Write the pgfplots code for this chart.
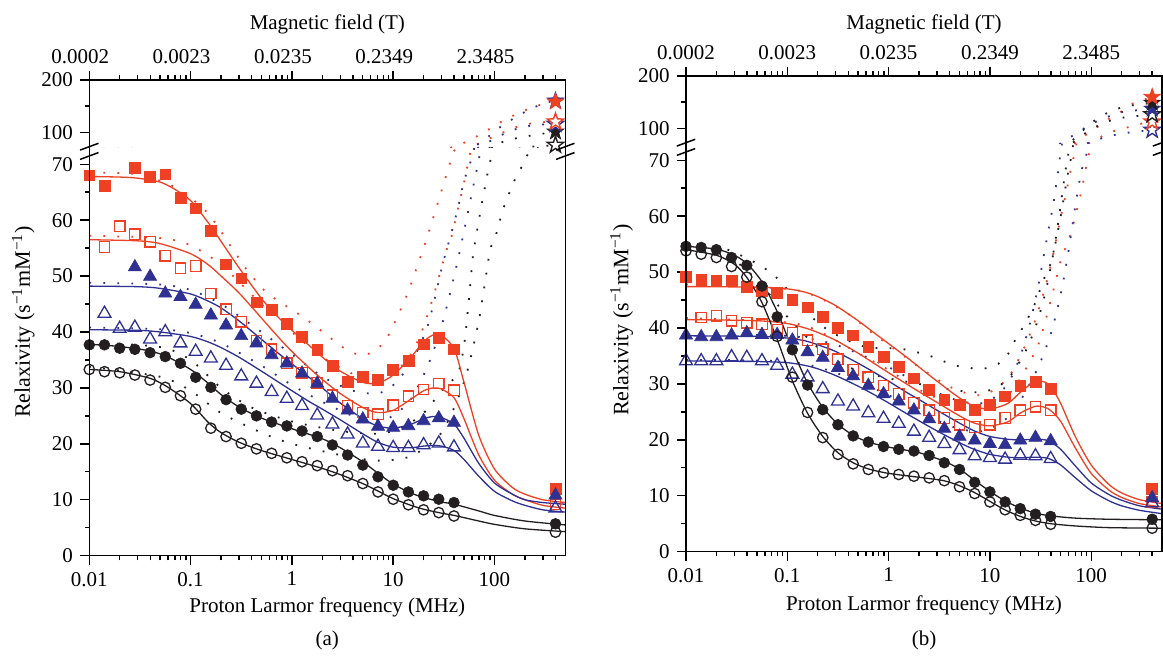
\documentclass[border=0pt]{standalone}
\usepackage{fontspec}
\setmainfont{Liberation Serif}
\usepackage{pgfplots}
\usepackage{pgfplotstable}
\pgfplotsset{compat=1.18}
\usetikzlibrary{plotmarks}

\definecolor{rred}{RGB}{238,64,35}
\definecolor{rblue}{RGB}{46,49,146}
\definecolor{rblack}{RGB}{35,31,32}

\newcommand\lf{\fontsize{10.5pt}{12.6pt}\selectfont}
\newcommand\lfy{\fontsize{11pt}{13pt}\selectfont}

% five-pointed star, filled with the fill colour and outlined
\pgfdeclareplotmark{fivestar}{%
  \pgfpathmoveto{\pgfpointpolar{90}{\pgfplotmarksize}}%
  \pgfpathlineto{\pgfpointpolar{126}{0.4\pgfplotmarksize}}%
  \pgfpathlineto{\pgfpointpolar{162}{\pgfplotmarksize}}%
  \pgfpathlineto{\pgfpointpolar{198}{0.4\pgfplotmarksize}}%
  \pgfpathlineto{\pgfpointpolar{234}{\pgfplotmarksize}}%
  \pgfpathlineto{\pgfpointpolar{270}{0.4\pgfplotmarksize}}%
  \pgfpathlineto{\pgfpointpolar{306}{\pgfplotmarksize}}%
  \pgfpathlineto{\pgfpointpolar{342}{0.4\pgfplotmarksize}}%
  \pgfpathlineto{\pgfpointpolar{18}{\pgfplotmarksize}}%
  \pgfpathlineto{\pgfpointpolar{54}{0.4\pgfplotmarksize}}%
  \pgfpathclose
  \pgfusepathqfillstroke}

% measured relaxivities, panel (a)
\pgfplotstableread{
f       sqF   sqO   trF   trO   ciF   ciO
0.01    68.0  nan   nan   nan   37.7  33.3
0.01413 66.1  55.2  nan   43.3  37.7  32.9
0.01995 nan   58.9  nan   40.6  37.1  32.7
0.02818 69.4  57.5  51.6  40.8  36.9  32.3
0.03981 67.8  56.1  49.9  38.7  36.3  31.4
0.05623 68.2  53.6  46.9  40.0  35.6  30.1
0.07943 64.0  51.4  46.3  38.0  34.4  28.6
0.1122  62.1  51.8  44.9  36.5  31.9  26.2
0.1585  58.1  46.9  43.0  35.3  30.1  22.8
0.2239  52.1  44.1  41.2  34.0  27.9  21.3
0.3162  49.6  41.8  39.3  32.1  26.2  20.1
0.4467  45.3  38.5  38.0  30.8  25.0  19.1
0.6310  43.9  36.9  35.9  29.3  23.9  18.3
0.8913  41.5  34.4  34.4  28.1  23.2  17.5
1.259   39.1  32.7  32.6  26.8  22.3  16.8
1.778   36.8  30.9  30.8  25.1  21.3  16.1
2.512   33.9  28.7  28.1  23.5  19.8  15.2
3.548   31.1  26.8  26.0  21.7  18.0  14.3
5.012   32.0  25.6  24.4  20.1  16.2  12.9
7.079   31.5  25.3  23.1  19.5  14.1  11.4
10.0    33.3  26.9  22.9  19.3  12.6  10.1
14.13   34.8  28.5  23.2  19.3  11.4  9.1
19.95   37.8  29.7  24.1  19.8  10.7  8.2
28.18   39.0  30.8  24.6  20.1  10.1  7.7
39.81   36.9  29.6  23.8  19.4  9.5   7.1
400     12.0  9.2   10.8  8.5   5.7   4.2
}\dataA

% measured relaxivities, panel (b)
\pgfplotstableread{
f       sqF   sqO   trF   trO   ciF   ciO
0.01    49.1  nan   38.7  34.1  54.6  53.8
0.01413 48.6  41.9  38.4  34.1  54.4  53.2
0.01995 48.4  42.2  38.4  34.1  54.0  52.6
0.02818 48.4  41.3  38.7  34.8  52.6  51.0
0.03981 47.3  40.9  39.1  34.7  51.2  49.1
0.05623 46.6  40.7  38.8  34.1  47.5  44.7
0.07943 46.3  39.7  38.8  33.3  42.0  38.5
0.1122  45.1  39.1  37.8  31.7  36.1  31.2
0.1585  43.7  37.8  35.7  31.2  29.8  24.9
0.2239  42.0  36.2  34.7  29.1  25.4  20.4
0.3162  40.1  34.4  32.9  26.9  22.7  17.4
0.4467  38.7  32.5  31.4  26.0  20.7  15.7
0.6310  36.7  31.2  29.7  24.8  19.6  14.7
0.8913  34.9  29.7  28.2  23.8  18.8  14.1
1.259   33.0  28.2  26.9  22.9  18.3  13.8
1.778   31.0  26.6  25.3  21.5  18.0  13.5
2.512   28.9  25.3  23.7  20.4  17.2  13.2
3.548   27.2  23.9  22.0  19.3  15.9  12.7
5.012   26.2  22.7  20.6  18.2  14.7  11.6
7.079   25.4  22.3  19.9  17.1  12.4  10.4
10.0    26.3  22.7  19.3  16.8  10.7  8.9
14.13   27.8  23.9  19.1  16.5  8.9   7.5
19.95   29.6  25.3  19.9  17.2  7.7   6.5
28.18   30.4  25.9  20.4  17.1  6.7   5.6
39.81   29.1  25.3  19.8  16.6  6.3   4.9
400     11.2  8.9   9.6   8.7   5.8   4.2
}\dataB

% predicted profiles, panel (a)
\pgfplotstableread{
f y
0.01 68.5
0.03 68.2
0.07 65.9
0.144 61.5
0.254 55.1
0.36 51.1
0.53 47.5
0.7 45.8
1.21 43.0
1.55 41.6
2.45 38.8
3.5 36.8
5 35.8
7 37.0
8.9 39.3
10.3 41.6
13.5 46.4
17 51.4
21.4 56.7
28.8 64.2
38.4 71.6
43 74
56.8 85.3
75.8 98
97 110.7
129 124.9
172 136.3
232 147
314 155
400 158.5
}\pArF
\pgfplotstableread{
f y
0.01 48.8
0.05 48.5
0.1 47.5
0.2 45
0.5 40
1 36
2 32
4 29.5
7 29
10 30.5
15 34.5
22 41.2
30.9 52.2
36.6 57
43.5 62.1
50.4 67.2
61.2 71.8
70 78
85 90
110 108
150 125
200 139
236 146
314 156
400 160.5
}\pAbF
\pgfplotstableread{
f y
0.01 57.2
0.05 56.8
0.1 55.5
0.2 52
0.5 45
1 40
2 35.5
4 32.5
7 31.5
10 32.5
15 36
20 41
26 47.5
33.5 54.6
37.5 57
43.5 62
50.4 67
57.5 72
67.6 77.6
90 88.5
120 99.2
164 110
222 116.5
312 119.5
400 120.3
}\pArO
\pgfplotstableread{
f y
0.01 40.8
0.05 40.5
0.1 39.8
0.2 38
0.5 34
1 30.5
2 27.5
4 25
7 24.3
10 25
15 28
22 34
30 41
40 50
50 58
60 65
72 72
85 80
110 92
150 104
220 112
310 115
400 116
}\pAbO
\pgfplotstableread{
f y
0.01 38.2
0.05 37.3
0.1 35
0.2 30
0.4 26.5
1 24
3 22.3
7 21.8
12 22.8
20 25.5
30 29.5
43.5 32.6
50.4 38
56 46
61.2 53.5
67.7 58.4
75.8 63.4
85.5 68.4
91.6 70.9
96.4 73.8
131 84
181 90.4
249 94.8
342 99.2
400 101
}\pAkF
\pgfplotstableread{
f y
0.01 33.8
0.05 32
0.1 29.5
0.2 25.5
0.5 22
1 20
3 18
7 17
15 17.8
30 22
50 31
70 42
89.6 54.2
100 56.6
110 59
119 61.5
134 63.9
150 66.3
173 68.5
201 70.7
223 72.3
314 73.8
400 75.7
}\pAkO

% predicted profiles, panel (b)
\pgfplotstableread{
f y
0.01 47.8
0.1 47
0.2 45.5
0.4 42.5
0.7 39
1 37
2 33
4 29.5
7 28
10 28.5
15 31
20 35
25 39
30 43
36 48
42.4 53.4
49.2 59.2
56.6 64.2
64.5 69.3
71.2 72.8
85 85
107 98
147 117
200 132.6
254 147
400 159.8
}\pBrF
\pgfplotstableread{
f y
0.01 55
0.025 54.1
0.07 49.8
0.162 42.5
0.275 39.2
0.59 36.6
1.3 36.3
2.48 35.1
4.54 33.3
8.3 32.7
12.1 33.6
15.2 35.4
17.7 37.8
22.3 40.8
27.9 44.4
33.7 48.5
40.8 52.1
46 57.5
50 62
55 67.5
61 72.5
70 82
85 98
110 116
150 131
220 142
400 148.5
}\pBkF
\pgfplotstableread{
f y
0.01 38.8
0.1 38.6
0.3 37
1 33
2 30
4 27.5
7 26.5
10 27
15 30
20 35
25 41
30 47.5
33.7 52.5
37.7 57.4
42.4 62.3
46.4 67.2
50.7 72.2
61.8 82.5
77.6 95
103 109.4
139 120.2
185 129.6
254 133.5
400 137.2
}\pBbF
\pgfplotstableread{
f y
0.01 54.2
0.03 52
0.06 47
0.1 42
0.2 36.5
0.4 33
1 31
2 30
4 29
8 28.5
12 29.5
16 31.5
22 35.5
28 40
35 46
42 53
50 60
58 67
66 72.5
80 85
100 98
140 112
200 120
400 126.4
}\pBkO
\pgfplotstableread{
f y
0.01 41.8
0.1 41
0.2 39.5
0.5 35.5
1 32.5
2 29
4 26.5
7 25.5
10 26
15 28
20 31
30 37
40 45
50.8 52.5
59.6 55.5
69.8 60
80.3 64.6
90.6 69.5
100 73
116 80
146 90.6
191 98
260 104.3
315 109
400 112.6
}\pBrO
\pgfplotstableread{
f y
0.01 34.3
0.1 34
0.3 32
1 28
2 25
4 22.5
7 21.5
10 22
15 24
20 27
30 33
40 39
50 46
60 54
70 62
80 68
95 72.5
110 77
150 85
220 91
400 96.8
}\pBbO

% settings shared by all four axes
\pgfplotsset{
  scale only axis, width=238pt, xmin=0.01, xmax=500,
  axis line style={line width=0.75pt, black}, tick align=outside,
  major tick length=4.65pt, minor tick length=2.4pt,
  tick style={line width=0.7pt, color=black},
  tick label style={font=\lf, text=black},
  clip mode=individual,
  xtick={0.01,0.1,1,10,100},
  minor xtick={0.02,0.03,0.04,0.05,0.06,0.07,0.08,0.09,0.2,0.3,0.4,0.5,0.6,0.7,0.8,0.9,2,3,4,5,6,7,8,9,20,30,40,50,60,70,80,90,200,300,400},
  fitline/.style={line width=0.65pt, smooth, tension=0.45, no marks},
  dotc/.style={line width=0.9pt, dash pattern=on 0.9pt off 6.1pt, smooth, tension=0.45, no marks},
  mSF/.style={only marks, mark=square*, mark size=2.7pt, color=rred, mark options={solid, line width=0.3pt}},
  mSO/.style={only marks, mark=square, mark size=2.6pt, color=rred, mark options={solid, line width=0.65pt}},
  mTF/.style={only marks, mark=triangle*, mark size=3.8pt, color=rblue, mark options={solid, line width=0.3pt}},
  mTO/.style={only marks, mark=triangle, mark size=3.7pt, color=rblue, mark options={solid, line width=0.65pt}},
  mCF/.style={only marks, mark=*, mark size=2.7pt, color=rblack, mark options={solid, line width=0.3pt}},
  mCO/.style={only marks, mark=o, mark size=2.6pt, color=rblack, mark options={solid, line width=0.65pt}},
  stF/.style={only marks, mark=fivestar, mark size=4.3pt, mark options={solid, fill=#1, draw=#1, line width=0.4pt}},
  stO/.style={only marks, mark=fivestar, mark size=4.3pt, mark options={solid, fill=white, draw=#1, line width=0.7pt}},
}

\begin{document}
\begin{tikzpicture}
\useasboundingbox (0,0) rectangle (581.5pt,328pt);

% ---------------- panel (a) ----------------
\begin{axis}[xmode=log, height=203.85pt, ymin=0, ymax=72.9,
    axis x line*=bottom, axis y line*=left,
    ytick={0,10,20,30,40,50,60,70}, minor ytick={5,15,25,35,45,55,65},
    yticklabels={0,10,20,30,40,50,60,70},
    xticklabels={0.01,0.1,1,10,100},
    at={(44.65pt,50.15pt)}, anchor=south west]
  \addplot[dotc, rred] table[x=f,y=y] {\pArF};
  \addplot[dotc, rred] table[x=f,y=y] {\pArO};
  \addplot[dotc, rblue] table[x=f,y=y] {\pAbF};
  \addplot[dotc, rblue] table[x=f,y=y] {\pAbO};
  \addplot[dotc, rblack] table[x=f,y=y] {\pAkF};
  \addplot[dotc, rblack] table[x=f,y=y] {\pAkO};
  \addplot[fitline, rred] coordinates {(0.01,67.8)(0.02,67.7)(0.03,67.5)(0.05,66.8)(0.07,65.5)(0.1,63.5)(0.15,59.5)(0.2,56.2)(0.3,51.5)(0.5,46)(0.7,43)(1,40.3)(1.5,37.5)(2,35.5)(3,33)(5,31)(7,30.8)(10,32.3)(15,35.5)(20,38.3)(25,39.5)(30,39.4)(40,37)(50,31)(70,21.5)(100,15.5)(150,12.2)(200,11)(300,10)(500,9.5)};
  \addplot[fitline, rred] coordinates {(0.01,56.5)(0.03,56.3)(0.05,55.8)(0.1,54)(0.15,52)(0.2,50)(0.3,47)(0.5,42.5)(0.7,39.5)(1,36.5)(1.5,33.5)(2,31.5)(3,29)(5,26.5)(7,25.6)(10,26)(15,28)(20,29.5)(25,30)(30,29.8)(40,28.2)(50,24.5)(70,18)(100,13.5)(150,11)(200,10)(300,9)(500,8.5)};
  \addplot[fitline, rblue] coordinates {(0.01,48.2)(0.03,48.1)(0.05,47.8)(0.1,46.8)(0.15,45.5)(0.2,44.3)(0.3,42)(0.5,38.7)(0.7,36.5)(1,34.3)(1.5,31.8)(2,30)(3,27.3)(5,24.5)(7,23.2)(10,22.8)(15,23.5)(20,24.5)(25,24.9)(30,24.7)(40,23.5)(50,21)(70,16.5)(100,13)(150,11)(200,10)(300,9.5)(500,9.2)};
  \addplot[fitline, rblue] coordinates {(0.01,40.4)(0.03,40.3)(0.05,40)(0.1,39.2)(0.15,38.2)(0.2,37.2)(0.3,35.5)(0.5,33)(0.7,31.3)(1,29.5)(1.5,27.5)(2,26.2)(3,24.3)(5,21.8)(7,20.3)(10,19.4)(15,19.3)(20,19.6)(25,19.7)(30,19.6)(40,18.8)(50,17.2)(70,14.2)(100,11.5)(150,9.8)(200,9)(300,8.2)(500,7.8)};
  \addplot[fitline, rblack] coordinates {(0.01,37.8)(0.02,37.4)(0.04,36.6)(0.06,35.5)(0.1,33.3)(0.15,30.8)(0.2,28.8)(0.3,26.6)(0.5,24.6)(1,22.7)(2,20.9)(3,19.3)(5,16.8)(7,14.8)(10,12.8)(15,11.2)(20,10.4)(30,9.6)(40,9.2)(70,8)(100,7.2)(200,6.2)(500,5.5)};
  \addplot[fitline, rblack] coordinates {(0.01,33.3)(0.02,32.9)(0.04,31.7)(0.06,30.1)(0.1,27.2)(0.15,23.8)(0.2,22)(0.3,20.3)(0.5,18.8)(1,17.2)(2,15.6)(3,14.5)(5,12.9)(7,11.6)(10,10.2)(15,9)(20,8.3)(30,7.6)(40,7.2)(70,6.2)(100,5.6)(200,4.8)(500,4.3)};
  \addplot[mSO] table[x=f,y=sqO] {\dataA};
  \addplot[mSF] table[x=f,y=sqF] {\dataA};
  \addplot[mTO] table[x=f,y=trO] {\dataA};
  \addplot[mTF] table[x=f,y=trF] {\dataA};
  \addplot[mCO] table[x=f,y=ciO] {\dataA};
  \addplot[mCF] table[x=f,y=ciF] {\dataA};
\end{axis}

\begin{axis}[xmode=log, height=34pt, ymin=70, ymax=200,
    axis x line*=top, axis y line*=left,
    ytick={100,200}, minor ytick={150}, yticklabels={100,200},
    xticklabels={0.0002,0.0023,0.0235,0.2349,2.3485},
    xticklabel style={xshift=-4.5pt},
    at={(44.65pt,254pt)}, anchor=south west]
  \addplot[dotc, rred] table[x=f,y=y] {\pArF};
  \addplot[dotc, rred] table[x=f,y=y] {\pArO};
  \addplot[dotc, rblue] table[x=f,y=y] {\pAbF};
  \addplot[dotc, rblue] table[x=f,y=y] {\pAbO};
  \addplot[dotc, rblack] table[x=f,y=y] {\pAkF};
  \addplot[dotc, rblack] table[x=f,y=y] {\pAkO};
  \addplot[stO=rblack] coordinates {(400,75.7)};
  \addplot[stF=rblack] coordinates {(400,101)};
  \addplot[stO=rblue] coordinates {(400,116)};
  \addplot[stO=rred] coordinates {(400,120.3)};
  \addplot[stF=rblue] coordinates {(400,160.5)};
  \addplot[stF=rred] coordinates {(400,158.5)};
\end{axis}

% ---------------- panel (b) ----------------
\begin{axis}[xmode=log, height=203.85pt, ymin=0, ymax=72.9,
    axis x line*=bottom, axis y line*=left,
    ytick={0,10,20,30,40,50,60,70}, minor ytick={5,15,25,35,45,55,65},
    yticklabels={0,10,20,30,40,50,60,70},
    xticklabels={0.01,0.1,1,10,100},
    at={(343pt,52.15pt)}, anchor=south west]
  \addplot[dotc, rred] table[x=f,y=y] {\pBrF};
  \addplot[dotc, rred] table[x=f,y=y] {\pBrO};
  \addplot[dotc, rblue] table[x=f,y=y] {\pBbF};
  \addplot[dotc, rblue] table[x=f,y=y] {\pBbO};
  \addplot[dotc, rblack] table[x=f,y=y] {\pBkF};
  \addplot[dotc, rblack] table[x=f,y=y] {\pBkO};
  \addplot[fitline, rred] coordinates {(0.01,47.4)(0.05,47.3)(0.1,47)(0.15,46.4)(0.2,45.6)(0.3,44)(0.5,41.3)(0.7,39.3)(1,37.2)(1.5,34.8)(2,33)(3,30.5)(5,27.5)(7,26)(10,25.5)(15,26.5)(20,28.5)(28,30.5)(35,30.3)(40,29.5)(50,26.5)(70,20.5)(100,15.5)(150,12)(200,10.5)(300,9.3)(500,8.6)};
  \addplot[fitline, rred] coordinates {(0.01,41.5)(0.05,41.3)(0.1,40.8)(0.15,40)(0.2,39.2)(0.3,37.8)(0.5,35.5)(0.7,33.8)(1,32)(1.5,30)(2,28.6)(3,26.7)(5,24.3)(7,23)(10,22.5)(15,23.2)(20,24.8)(28,26)(35,25.8)(40,25.2)(50,23.3)(70,18.5)(100,14)(150,11)(200,9.7)(300,8.6)(500,8)};
  \addplot[fitline, rblue] coordinates {(0.01,38.6)(0.05,38.5)(0.1,38.2)(0.15,37.7)(0.2,37)(0.3,35.8)(0.5,33.7)(0.7,32.2)(1,30.5)(1.5,28.5)(2,27.2)(3,25.3)(5,23)(7,21.6)(10,20.6)(15,20.1)(20,20)(28,20.1)(35,20)(40,19.6)(50,18.3)(70,15.3)(100,12.3)(150,10.2)(200,9.2)(300,8.2)(500,7.6)};
  \addplot[fitline, rblue] coordinates {(0.01,34.1)(0.05,34)(0.1,33.8)(0.15,33.3)(0.2,32.7)(0.3,31.5)(0.5,29.6)(0.7,28.2)(1,26.6)(1.5,24.7)(2,23.4)(3,21.6)(5,19.5)(7,18.3)(10,17.4)(15,16.9)(20,16.8)(28,16.9)(35,16.8)(40,16.5)(50,15.5)(70,13.2)(100,10.9)(150,9.1)(200,8.2)(300,7.4)(500,6.8)};
  \addplot[fitline, rblack] coordinates {(0.01,54.6)(0.02,54.1)(0.03,53)(0.04,51.5)(0.056,48.3)(0.08,42.8)(0.112,36.2)(0.158,30.2)(0.224,25.8)(0.316,22.8)(0.447,20.8)(0.631,19.6)(1,18.7)(2,17.7)(3.5,16.2)(5,14.8)(7,12.8)(10,10.8)(14,9.1)(20,7.8)(28,6.9)(40,6.4)(70,6)(150,5.8)(500,5.7)};
  \addplot[fitline, rblack] coordinates {(0.01,54)(0.02,53)(0.03,51.4)(0.04,49)(0.056,44.6)(0.08,37.8)(0.112,30.6)(0.158,24.8)(0.224,20.6)(0.316,17.7)(0.447,15.9)(0.631,14.8)(1,14)(2,13.3)(3.5,12.7)(5,11.8)(7,10.6)(10,9)(14,7.5)(20,6.3)(28,5.5)(40,5)(70,4.6)(150,4.3)(500,4.2)};
  \addplot[mSO] table[x=f,y=sqO] {\dataB};
  \addplot[mSF] table[x=f,y=sqF] {\dataB};
  \addplot[mTO] table[x=f,y=trO] {\dataB};
  \addplot[mTF] table[x=f,y=trF] {\dataB};
  \addplot[mCO] table[x=f,y=ciO] {\dataB};
  \addplot[mCF] table[x=f,y=ciF] {\dataB};
\end{axis}

\begin{axis}[xmode=log, height=34pt, ymin=70, ymax=200,
    axis x line*=top, axis y line*=left,
    ytick={100,200}, minor ytick={150}, yticklabels={100,200},
    xticklabels={0.0002,0.0023,0.0235,0.2349,2.3485},
    at={(343pt,256pt)}, anchor=south west]
  \addplot[dotc, rred] table[x=f,y=y] {\pBrF};
  \addplot[dotc, rred] table[x=f,y=y] {\pBrO};
  \addplot[dotc, rblue] table[x=f,y=y] {\pBbF};
  \addplot[dotc, rblue] table[x=f,y=y] {\pBbO};
  \addplot[dotc, rblack] table[x=f,y=y] {\pBkF};
  \addplot[dotc, rblack] table[x=f,y=y] {\pBkO};
  \addplot[stO=rblue] coordinates {(400,96.8)};
  \addplot[stO=rred] coordinates {(400,112.6)};
  \addplot[stO=rblack] coordinates {(400,126.4)};
  \addplot[stF=rblue] coordinates {(400,137.2)};
  \addplot[stF=rblack] coordinates {(400,148.5)};
  \addplot[stF=rred] coordinates {(400,159.8)};
\end{axis}

% frames and axis breaks
\begin{scope}[line width=0.75pt, black]
  \draw (44.65pt,50.15pt) rectangle (282.65pt,288pt);
  \draw (343pt,52.15pt) rectangle (581pt,290pt);
  \foreach \x in {44.65pt,282.65pt}{
    \draw ([xshift=-4.6pt]\x,252.95pt) -- ([xshift=4.6pt]\x,256.35pt);
    \draw ([xshift=-4.6pt]\x,248.3pt) -- ([xshift=4.6pt]\x,251.7pt);
  }
  \foreach \x in {343pt,581pt}{
    \draw ([xshift=-4.6pt]\x,254.95pt) -- ([xshift=4.6pt]\x,258.35pt);
    \draw ([xshift=-4.6pt]\x,250.3pt) -- ([xshift=4.6pt]\x,253.7pt);
  }
\end{scope}

% titles and labels
\node[font=\lf] at (163.65pt,316pt) {Magnetic field (T)};
\node[font=\lf] at (462pt,316pt) {Magnetic field (T)};
\node[font=\lf] at (163.65pt,24.5pt) {Proton Larmor frequency (MHz)};
\node[font=\lf] at (462pt,25.5pt) {Proton Larmor frequency (MHz)};
\node[font=\lfy, rotate=90] at (11.65pt,167pt) {Relaxivity (s\textsuperscript{−1}mM\textsuperscript{−1})};
\node[font=\lfy, rotate=90] at (310.85pt,168pt) {Relaxivity (s\textsuperscript{−1}mM\textsuperscript{−1})};
\node[font=\lf] at (163.65pt,8pt) {(a)};
\node[font=\lf] at (462pt,8pt) {(b)};
\end{tikzpicture}
\end{document}
